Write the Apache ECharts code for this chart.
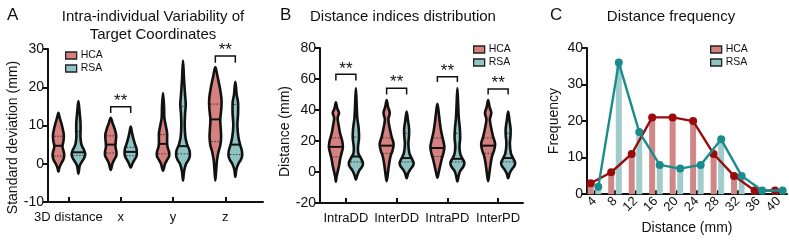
<!DOCTYPE html>
<html>
<head>
<meta charset="utf-8">
<script src="https://cdn.jsdelivr.net/npm/echarts@6/dist/echarts.min.js"></script>
<style>
html, body { margin: 0; padding: 0; background: #fff; }
#main { width: 789px; height: 240px; }
</style>
</head>
<body>
<div id="main"></div>
<script>
// ---- panel A: violins (value, relative half width), top to bottom
var groupsA = ['3D distance', 'x', 'y', 'z'];
var violinHcaA = [
    [[13.3, 0], [12, 0.2], [10.5, 0.45], [9, 0.65], [7.5, 0.8], [6, 0.75], [4.5, 0.6], [3, 0.8], [2, 0.85], [1, 0.7], [0, 0.4], [-1, 0.15], [-2.1, 0]],
    [[12, 0], [10.5, 0.3], [9, 0.6], [7.5, 0.8], [6, 0.75], [4.5, 0.7], [3, 0.85], [2, 0.8], [1, 0.5], [0, 0.25], [-1.6, 0]],
    [[18.5, 0], [15, 0.15], [12, 0.2], [10, 0.4], [8, 0.6], [6, 0.6], [4.5, 0.65], [3, 0.9], [2, 0.9], [1, 0.6], [0, 0.3], [-1.8, 0]],
    [[25.3, 0], [23, 0.3], [20, 0.65], [17, 0.9], [15, 0.9], [13, 0.8], [11.5, 0.72], [9, 0.8], [7, 0.85], [5, 0.75], [3, 0.45], [1, 0.25], [-1, 0.15], [-4.4, 0]]
];
var violinRsaA = [
    [[16.4, 0], [14, 0.15], [11, 0.3], [9, 0.32], [7, 0.3], [5, 0.45], [3.5, 0.85], [2.5, 1], [1.5, 0.85], [0.5, 0.5], [-0.5, 0.2], [-2.6, 0]],
    [[9.7, 0], [8, 0.2], [6.5, 0.4], [5, 0.65], [4, 0.85], [3, 0.9], [2, 0.85], [1, 0.55], [0, 0.25], [-1, 0]],
    [[27, 0], [22, 0.15], [18, 0.3], [15.5, 0.4], [13, 0.3], [10, 0.25], [7, 0.35], [5, 0.6], [3.5, 0.95], [2, 1], [1, 0.8], [0, 0.45], [-2, 0.15], [-4.4, 0]],
    [[21.4, 0], [18, 0.2], [16, 0.4], [13, 0.4], [10, 0.3], [7, 0.45], [5, 0.7], [3.5, 0.95], [2, 1], [1, 0.8], [0, 0.45], [-1.5, 0.15], [-3.4, 0]]
];
// [median, q1, q3]
var statsHcaA = [[4.7, 2, 7.2], [5, 2.8, 7.3], [5.2, 2.6, 7.6], [11.6, 5.8, 15.6]];
var statsRsaA = [[3, 2.2, 8.5], [3.1, 2.1, 4.3], [4.6, 2.6, 15], [5, 2.4, 15.5]];
// [group, bracket top, leg end]
var sigA = [[2, 14.9, 13.3], [4, 28.2, 26.4]];

// ---- panel B
var groupsB = ['IntraDD', 'InterDD', 'IntraPD', 'InterPD'];
var violinHcaB = [
    [[45, 0], [41, 0.2], [38, 0.45], [35, 0.25], [30, 0.4], [25, 0.6], [20, 0.9], [16, 1], [12, 0.8], [8, 0.6], [4, 0.45], [0, 0.25], [-3, 0.1], [-6.3, 0]],
    [[46.5, 0], [42, 0.2], [38, 0.45], [34, 0.25], [28, 0.45], [23, 0.7], [18, 1], [14, 0.85], [10, 0.55], [5, 0.35], [0, 0.2], [-6, 0]],
    [[44, 0], [38, 0.2], [32, 0.35], [26, 0.55], [20, 0.85], [16, 1], [12, 0.85], [8, 0.6], [4, 0.4], [0, 0.2], [-3.6, 0]],
    [[46.5, 0], [42, 0.2], [38, 0.45], [34, 0.25], [28, 0.45], [23, 0.7], [18, 1], [14, 0.85], [10, 0.55], [5, 0.35], [0, 0.2], [-6, 0]]
];
var violinRsaB = [
    [[54, 0], [45, 0.1], [35, 0.2], [28, 0.4], [22, 0.45], [16, 0.3], [12, 0.35], [9, 0.7], [6, 1], [3.5, 0.9], [1, 0.5], [-2, 0.2], [-5, 0]],
    [[39, 0], [33, 0.2], [28, 0.35], [24, 0.35], [18, 0.25], [12, 0.4], [9, 0.7], [6, 1], [4, 0.9], [1.5, 0.5], [-1, 0.2], [-4, 0]],
    [[54, 0], [45, 0.1], [35, 0.2], [28, 0.35], [22, 0.4], [16, 0.3], [11, 0.45], [8, 0.8], [6, 1], [3.5, 0.85], [1, 0.45], [-2, 0.2], [-6, 0]],
    [[39, 0], [33, 0.2], [28, 0.35], [24, 0.35], [18, 0.25], [12, 0.4], [9, 0.7], [6, 1], [4, 0.9], [1.5, 0.5], [-1, 0.2], [-4, 0]]
];
var statsHcaB = [[16.2, 9.7, 22], [17, 12, 22], [15.5, 10, 22], [17, 12, 22]];
var statsRsaB = [[10, 6.5, 22.5], [9, 6.5, 25], [8.5, 6.5, 25], [9, 6.5, 25]];
var sigB = [[1, 63, 59], [2, 54, 50], [3, 61.5, 58], [4, 53.5, 50]];

// ---- panel C
var bins = [4, 8, 12, 16, 20, 24, 28, 32, 36, 40];
var freqHCA = [3, 6, 11, 21, 21, 20, 11, 5, 1, 1];
var freqRSA = [2, 36, 17, 8, 7, 8, 15, 5, 1, 1];

var FONT = 'Liberation Sans';
var INK = '#111';
var HCA_FILL = '#d78080';
var RSA_FILL = '#8fc4c4';

function widthAt(shape, v) {
    for (var i = 0; i < shape.length - 1; i++) {
        var a = shape[i], b = shape[i + 1];
        if (v <= a[0] && v >= b[0]) {
            var t = (a[0] - v) / (a[0] - b[0]);
            return a[1] + (b[1] - a[1]) * t;
        }
    }
    return 0;
}

function violin(shapes, stats, dx, half, fill) {
    return function (params, api) {
        var k = api.value(0);
        var sh = shapes[params.dataIndex];
        var st = stats[params.dataIndex];
        var cx = api.coord([k, 0])[0] + dx;
        var right = [], left = [];
        sh.forEach(function (p) {
            var y = api.coord([k, p[0]])[1];
            right.push([cx + p[1] * half, y]);
            left.unshift([cx - p[1] * half, y]);
        });
        var kids = [{
            type: 'polygon',
            shape: { points: right.concat(left.slice(1, -1)), smooth: 0.35 },
            style: { fill: fill, stroke: INK, lineWidth: 2.6 }
        }];
        [st[1], st[2]].forEach(function (q) {
            var w = Math.max(widthAt(sh, q) * half - 1.3, 1);
            var y = api.coord([k, q])[1];
            kids.push({ type: 'line', shape: { x1: cx - w, y1: y, x2: cx + w, y2: y },
                style: { stroke: '#333', lineWidth: 1, lineDash: [1.5, 1.5] } });
        });
        var wm = Math.max(widthAt(sh, st[0]) * half - 0.5, 1.5);
        var ym = api.coord([k, st[0]])[1];
        kids.push({ type: 'line', shape: { x1: cx - wm, y1: ym, x2: cx + wm, y2: ym },
            style: { stroke: INK, lineWidth: 2 } });
        return { type: 'group', children: kids };
    };
}

function brackets(dx) {
    return function (params, api) {
        var k = api.value(0);
        var top = api.coord([k, api.value(1)]);
        var leg = api.coord([k, api.value(2)])[1];
        var x1 = top[0] - dx, x2 = top[0] + dx;
        return { type: 'group', children: [
            { type: 'polyline', shape: { points: [[x1, leg], [x1, top[1]], [x2, top[1]], [x2, leg]] },
              style: { stroke: INK, lineWidth: 1.5, fill: null } },
            { type: 'text', x: top[0], y: top[1] + 3,
              style: { text: '**', fontSize: 17, fontFamily: FONT, fill: INK, align: 'center', verticalAlign: 'bottom' } }
        ] };
    };
}

function yAxisStyle(grid, min, max, step, name, gap, shift) {
    return {
        gridIndex: grid, type: 'value', min: min, max: max, interval: step,
        name: name, nameLocation: 'middle', nameGap: gap,
        nameTextStyle: { fontSize: 14, color: INK, fontFamily: FONT, padding: [0, shift, 0, 0] },
        axisLine: { show: true, lineStyle: { color: INK, width: 2 } },
        axisTick: { show: true, length: 5, lineStyle: { color: INK, width: 2 } },
        axisLabel: { fontSize: 14, color: INK, fontFamily: FONT, margin: 4 },
        splitLine: { show: false }
    };
}

function catAxis(grid, min, max, names) {
    return {
        gridIndex: grid, type: 'value', min: min, max: max,
        axisLine: { onZero: false, lineStyle: { color: INK, width: 2 } },
        axisTick: { customValues: [1, 2, 3, 4], inside: true, length: 5, lineStyle: { color: INK, width: 2 } },
        axisLabel: { customValues: [1, 2, 3, 4], fontSize: 13, color: INK, fontFamily: FONT, margin: 9,
            formatter: function (v) { return names[Math.round(v) - 1]; } },
        splitLine: { show: false }
    };
}

function legendAt(left, top) {
    return {
        left: left, top: top, orient: 'vertical', itemWidth: 11, itemHeight: 7, itemGap: 2, padding: 0,
        icon: 'rect', selectedMode: false,
        textStyle: { fontSize: 10.5, lineHeight: 11, color: INK, fontFamily: FONT, padding: [0, 0, 0, -1] },
        data: [
            { name: 'HCA', itemStyle: { color: HCA_FILL, borderColor: '#222', borderWidth: 1.3 } },
            { name: 'RSA', itemStyle: { color: RSA_FILL, borderColor: '#222', borderWidth: 1.3 } }
        ]
    };
}

var titleText = { fontSize: 15, fontWeight: 'normal', color: INK, fontFamily: FONT, lineHeight: 18 };
var letterText = { fontSize: 17, fontWeight: 'normal', color: INK, fontFamily: FONT };

var chart = echarts.init(document.getElementById('main'), null, { renderer: 'canvas' });
chart.setOption({
    animation: false,
    backgroundColor: '#fff',
    textStyle: { fontFamily: FONT },
    title: [
        { text: 'A', left: 2, top: 2, textStyle: letterText },
        { text: 'Intra-individual Variability of\nTarget Coordinates', left: 148, top: 3, textAlign: 'center', textStyle: titleText },
        { text: 'B', left: 275, top: 2, textStyle: letterText },
        { text: 'Distance indices distribution', left: 398, top: 3, textAlign: 'center', textStyle: titleText },
        { text: 'C', left: 545, top: 2, textStyle: letterText },
        { text: 'Distance frequency', left: 666, top: 3, textAlign: 'center', textStyle: titleText }
    ],
    legend: [legendAt(65, 50), legendAt(473, 44), legendAt(710, 44)],
    grid: [
        { left: 48, top: 49, width: 215, height: 153 },
        { left: 320, top: 48, width: 203, height: 155 },
        { left: 587, top: 48, width: 200, height: 153 }
    ],
    xAxis: [
        catAxis(0, 0.61, 4.72, groupsA),
        catAxis(1, 0.49, 4.49, groupsB),
        {
            gridIndex: 2, type: 'value', min: 2.53, max: 41.6,
            name: 'Distance (mm)', nameLocation: 'middle', nameGap: 24,
            nameTextStyle: { fontSize: 14, color: INK, fontFamily: FONT },
            axisLine: { onZero: false, lineStyle: { color: INK, width: 2 } },
            axisTick: { customValues: bins, inside: true, length: 4, lineStyle: { color: INK, width: 2 } },
            axisLabel: { customValues: bins, rotate: 45, fontSize: 13, color: INK, fontFamily: FONT, margin: 5 },
            splitLine: { show: false }
        },
        { gridIndex: 2, type: 'value', min: 2.53 + 0.74, max: 41.6 + 0.74, show: false },
        { gridIndex: 2, type: 'value', min: 2.53 - 0.74, max: 41.6 - 0.74, show: false }
    ],
    yAxis: [
        yAxisStyle(0, -10, 30, 10, 'Standard deviation (mm)', 28, 24),
        yAxisStyle(1, -20, 80, 20, 'Distance (mm)', 28, 12),
        yAxisStyle(2, 0, 40, 10, 'Frequency', 26, 0)
    ],
    series: [
        { name: 'HCA', type: 'custom', xAxisIndex: 0, yAxisIndex: 0, itemStyle: { color: HCA_FILL },
          renderItem: violin(violinHcaA, statsHcaA, -10, 6.8, HCA_FILL),
          data: groupsA.map(function (g, i) { return [i + 1, statsHcaA[i][0]]; }) },
        { name: 'RSA', type: 'custom', xAxisIndex: 0, yAxisIndex: 0, itemStyle: { color: RSA_FILL },
          renderItem: violin(violinRsaA, statsRsaA, 10, 6.8, RSA_FILL),
          data: groupsA.map(function (g, i) { return [i + 1, statsRsaA[i][0]]; }) },
        { type: 'custom', xAxisIndex: 0, yAxisIndex: 0, renderItem: brackets(10), data: sigA },

        { name: 'HCA', type: 'custom', xAxisIndex: 1, yAxisIndex: 1, itemStyle: { color: HCA_FILL },
          renderItem: violin(violinHcaB, statsHcaB, -10, 7, HCA_FILL),
          data: groupsB.map(function (g, i) { return [i + 1, statsHcaB[i][0]]; }) },
        { name: 'RSA', type: 'custom', xAxisIndex: 1, yAxisIndex: 1, itemStyle: { color: RSA_FILL },
          renderItem: violin(violinRsaB, statsRsaB, 10, 7, RSA_FILL),
          data: groupsB.map(function (g, i) { return [i + 1, statsRsaB[i][0]]; }) },
        { type: 'custom', xAxisIndex: 1, yAxisIndex: 1, renderItem: brackets(10), data: sigB },

        { name: 'HCA', type: 'bar', xAxisIndex: 3, yAxisIndex: 2, barWidth: 6,
          itemStyle: { color: '#cf8787' },
          data: bins.map(function (b, i) { return [b, freqHCA[i]]; }) },
        { name: 'RSA', type: 'bar', xAxisIndex: 4, yAxisIndex: 2, barWidth: 6,
          itemStyle: { color: '#a0cccc' },
          data: bins.map(function (b, i) { return [b, freqRSA[i]]; }) },
        { name: 'HCA', type: 'line', xAxisIndex: 3, yAxisIndex: 2, symbol: 'circle', symbolSize: 8, z: 5,
          lineStyle: { color: '#9b0b0b', width: 2.4 }, itemStyle: { color: '#9b0b0b' },
          data: bins.map(function (b, i) { return [b, freqHCA[i]]; }) },
        { name: 'RSA', type: 'line', xAxisIndex: 4, yAxisIndex: 2, symbol: 'circle', symbolSize: 8, z: 6,
          lineStyle: { color: '#1a8c8c', width: 2.4 }, itemStyle: { color: '#1a8c8c' },
          data: bins.map(function (b, i) { return [b, freqRSA[i]]; }) }
    ]
});
</script>
</body>
</html>
